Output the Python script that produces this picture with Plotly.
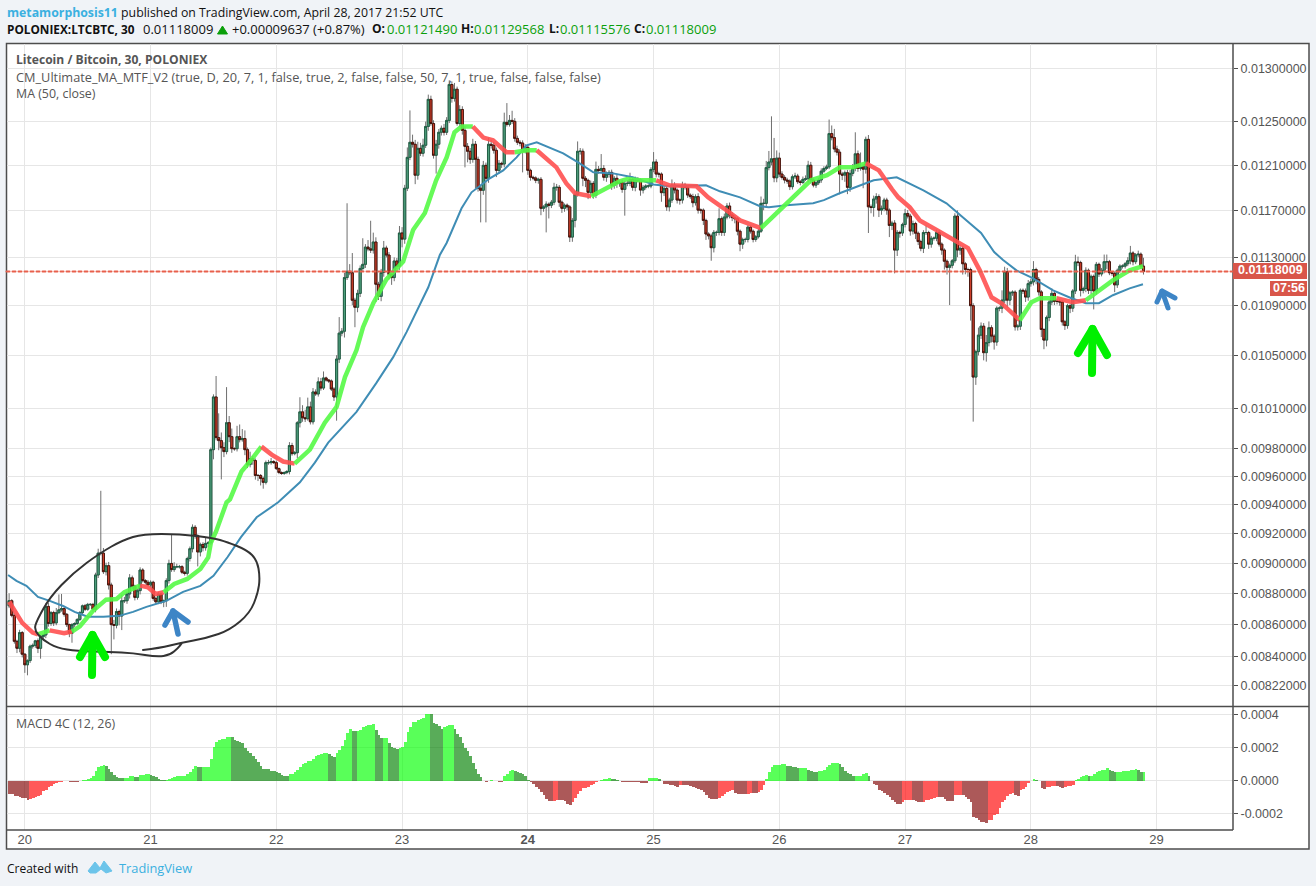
import pandas as pd
import plotly.graph_objects as go

W, H = 1316, 886
first_open = 8721
# closes, in millionths of BTC, one row per ten 30-minute candles
closes = [
8754,8659,8494,8450,8549,8413,
8347,8373,8463,8468,8497,8450,8523,8534,8717,8607,
8677,8611,8677,8695,8703,8666,8600,8545,8600,8607,
8633,8677,8721,8699,8730,8730,8699,8923,9069,9069,
8945,8985,8857,8600,8596,8684,8655,8754,8754,8798,
8904,8849,8776,8820,8956,8886,8875,8857,8875,8769,
8747,8798,8747,8754,8886,9000,8959,8978,8978,8978,
8941,8934,9033,9099,9245,9187,9077,9128,9106,9135,
9139,9794,10185,9882,9860,9808,9780,9992,9889,9801,
9801,9889,9867,9875,9794,9686,9729,9715,9608,9608,
9587,9559,9700,9700,9708,9700,9657,9629,9622,9629,
9636,9824,9765,9772,9992,10073,10029,10022,10110,9999,
10223,10208,10300,10253,10330,10314,10307,10245,10185,10476,
10680,10695,11130,11182,11170,10944,10887,11000,11206,11240,
11385,11370,11360,11428,11075,10976,11172,11377,11318,11155,
11130,11268,11225,11505,11453,11894,12170,12307,12289,12010,
12252,12207,12280,12453,12706,12480,12189,12289,12399,12436,
12399,12509,12847,12715,12802,12480,12611,12417,12270,12225,
12152,12289,12152,11894,11876,12098,11982,12289,12280,12234,
12053,12116,12110,12491,12472,12509,12500,12343,12307,12300,
12225,12261,12053,11991,11985,11964,11973,11718,11730,11754,
11745,11771,11902,11902,11771,11718,11745,11730,11470,11613,
11840,12225,12225,11982,11964,11858,11937,11832,12062,12053,
12070,11991,12018,12035,11920,11982,11937,11945,11884,11937,
11937,11972,11902,11967,11967,11878,11902,11914,11914,12061,
12128,12020,12020,11855,11893,11731,11790,11922,11878,11790,
11790,11922,11902,11834,11820,11767,11820,11702,11702,11613,
11496,11480,11380,11510,11510,11628,11510,11642,11738,11660,
11637,11628,11520,11410,11450,11450,11555,11520,11450,11473,
11520,11761,11761,12078,12128,12157,11987,12163,12020,11990,
11967,11958,11908,11996,12002,11952,11945,11973,11978,12099,
11967,11922,11943,11967,12046,12070,12084,12387,12350,12246,
12217,12020,12011,12032,11902,12026,12070,12202,12070,12084,
12064,12334,11731,11725,11799,11820,11702,11717,11790,11702,
11570,11590,11360,11510,11505,11578,11673,11650,11522,11586,
11503,11432,11375,11509,11509,11410,11460,11460,11509,11410,
11360,11266,11215,11232,11270,11650,11360,11375,11245,11197,
11197,10900,10337,10534,10664,10735,10526,10605,10723,10656,
10610,10880,10880,10945,11180,10945,11005,11010,10730,10735,
11025,11020,10970,11080,11095,11197,11115,11012,10709,10625,
10805,10930,11000,10935,10935,10930,10770,10740,10900,10880,
11020,11260,11255,11025,11040,11190,11025,11140,11020,11240,
11160,11190,11262,11262,11170,11165,11070,11190,11225,11225,
11245,11270,11335,11262,11320,11325,11225,11180]
wick_up = [
48,10,12,10,18,10,
6,8,10,12,6,15,12,8,20,25,
10,12,30,100,95,12,8,6,10,8,
8,10,8,12,10,8,10,15,30,430,
35,20,25,15,30,20,12,40,25,15,
25,15,10,12,18,12,10,15,12,10,
10,12,8,8,15,25,198,30,20,12,
10,10,12,15,20,15,10,12,15,40,
12,15,20,160,180,60,40,268,50,60,
10,80,90,70,60,15,50,20,15,10,
10,12,15,20,25,10,15,8,8,8,
10,25,20,12,12,110,50,60,70,40,
30,20,35,30,50,10,8,12,15,30,
128,25,40,580,60,165,20,30,25,220,
25,60,240,80,40,20,30,60,20,25,
15,30,25,60,50,30,90,295,70,40,
60,50,60,45,45,35,30,40,30,25,
40,30,40,30,60,25,40,30,40,30,
30,50,30,25,30,40,25,60,40,30,
25,30,15,90,180,50,90,30,25,20,
25,30,20,15,15,15,15,20,15,25,
15,20,40,30,20,15,15,15,15,20,
30,90,30,25,20,15,25,20,70,30,
130,30,25,20,25,20,30,20,25,20,
30,60,25,30,25,15,20,15,15,20,
90,25,20,15,25,15,20,50,25,15,
15,30,20,15,15,25,20,30,15,15,
15,15,20,20,15,90,20,30,25,30,
25,20,15,15,15,15,20,15,15,15,
20,60,40,60,100,390,190,70,50,25,
20,20,15,20,30,20,15,25,30,40,
30,15,20,20,25,20,20,130,75,80,
30,25,20,20,25,30,40,197,30,130,
25,25,40,20,30,30,20,25,20,20,
15,20,25,20,15,15,40,30,20,25,
15,15,15,20,60,15,20,15,25,20,
15,15,15,15,15,25,50,30,20,15,
15,15,20,15,60,30,25,60,50,20,
15,15,15,80,40,30,15,15,15,15,
15,15,20,30,25,70,15,20,15,10,
15,20,40,15,15,15,15,15,15,15,
15,60,45,15,15,25,15,15,15,20,
15,20,60,60,15,15,15,15,15,15,
15,30,60,15,15,30,15,70]
wick_down = [
15,12,15,30,25,20,
50,65,15,15,15,30,65,15,20,20,
15,20,15,10,12,15,15,25,60,15,
10,10,10,12,10,10,15,20,20,15,
15,25,30,187,90,20,60,90,15,20,
30,20,20,15,25,12,15,10,15,15,
15,15,15,35,40,20,15,15,10,12,
12,15,15,20,25,20,97,30,25,20,
25,15,70,20,70,228,40,20,40,30,
15,20,20,15,40,25,20,30,30,40,
50,45,15,15,15,10,10,12,10,10,
12,20,15,12,40,35,30,25,15,20,
20,15,20,20,15,12,15,15,30,178,
30,25,50,20,20,40,160,40,30,20,
30,20,25,30,145,30,40,35,20,40,
60,30,25,30,70,40,25,25,30,80,
40,25,30,25,40,20,30,165,40,30,
30,25,25,40,30,20,30,40,190,100,
40,30,260,30,280,40,386,40,30,30,
60,30,35,30,20,20,25,30,25,30,
190,20,40,30,20,25,30,60,30,220,
115,25,25,30,40,40,30,30,42,40,
60,20,30,70,60,60,40,30,25,30,
25,30,40,30,40,30,40,30,30,230,
25,25,30,35,20,50,30,20,20,20,
25,30,30,80,30,35,40,25,30,30,
40,30,20,25,20,40,25,30,30,40,
50,30,110,40,30,25,30,30,20,30,
30,40,35,60,40,25,25,20,25,20,
15,15,60,40,25,30,40,40,25,20,
30,25,30,25,20,20,25,15,15,30,
30,20,25,20,25,15,15,20,25,30,
30,180,45,60,60,40,25,25,30,20,
170,40,226,50,80,40,60,40,25,40,
100,40,195,50,40,25,25,20,40,30,
50,30,25,40,20,40,30,20,25,20,
40,70,60,310,25,20,60,40,90,40,
60,120,337,60,30,30,60,70,30,50,
60,30,25,40,25,60,40,25,30,30,
30,25,40,30,25,30,40,30,60,72,
50,30,25,30,25,30,30,35,25,40,
30,25,30,50,25,30,30,30,150,30,
25,20,25,60,20,20,60,25,20,20,
20,20,30,30,20,20,25,25]
macd_hist = [
-79,-79,-93,-94,-99,-103,
-107,-115,-113,-103,-99,-95,-90,-65,-55,-40,
-30,-22,-15,-9,-6,-4,-5,-6,-6,-7,
-8,-3,2,6,12,16,30,60,82,88,
92,88,72,50,33,20,16,14,14,16,
26,26,24,22,34,36,38,38,36,26,
20,12,4,2,2,8,16,22,26,28,
30,30,40,50,70,86,84,82,82,82,
82,128,205,230,243,248,250,262,265,262,
245,238,232,225,195,180,165,150,130,110,
85,72,70,68,60,58,50,45,36,30,
25,38,40,50,65,80,100,105,115,120,
130,150,155,160,165,165,162,145,140,165,
185,210,244,285,309,300,298,298,305,320,
330,332,335,340,305,275,255,255,255,225,
205,195,190,195,205,235,290,325,350,355,
365,368,375,403,403,400,345,338,330,310,
320,330,333,335,310,280,260,225,195,180,
145,108,70,40,20,0,-8,0,6,0,
-4,-6,-6,26,42,60,62,60,52,46,
38,30,6,-8,-22,-36,-48,-70,-90,-110,
-123,-123,-122,-120,-120,-120,-122,-140,-148,-130,
-108,-80,-62,-45,-42,-36,-28,-18,-10,-4,
6,8,12,14,10,8,6,-2,-6,-6,
-6,-6,-8,-8,-10,-14,-14,-14,14,14,
14,14,10,-4,-20,-22,-24,-25,-35,-36,
-26,-26,-27,-28,-30,-36,-44,-50,-58,-68,
-90,-108,-112,-112,-112,-105,-95,-80,-70,-66,
-60,-75,-80,-80,-82,-82,-80,-76,-76,-76,
-70,-55,-25,12,52,80,92,95,96,97,
98,90,88,82,80,76,76,76,76,65,
58,54,52,56,56,62,80,92,108,108,
108,100,80,60,45,42,26,30,30,30,
38,44,28,-2,-18,-28,-55,-62,-76,-85,
-100,-118,-130,-142,-142,-130,-120,-116,-115,-118,
-123,-128,-130,-128,-118,-115,-110,-104,-100,-100,
-102,-112,-122,-124,-124,-90,-86,-85,-90,-98,
-110,-130,-220,-228,-240,-248,-250,-255,-240,-238,
-210,-200,-165,-130,-118,-96,-84,-78,-90,-95,
-55,-48,-38,-14,-4,8,6,0,-42,-48,
-40,-36,-34,-32,-34,-36,-44,-38,-34,-30,
-26,4,10,20,26,34,30,30,42,52,
56,62,66,74,66,58,50,52,54,56,
58,60,62,64,68,64,52,52]
# candle number counted from 20 April 00:00, and the MA value there
ma_cm_index = [-6,-3.8,-1,3,5,9.5,15,18,21,26,31,35,38,44,47,50,53,57,62,67,70,71,73,77,78.3,82.7,86.5,90.3,94.2,98.6,103,108.8,114.5,119,122.2,126.6,129.1,133,138,144.4,148.2,152.7,157,161,164,166.7,171,175,178.7,182.6,183.8,187,191.5,195.4,199,202.9,206.7,210,216.2,222,227,230,234.7,241,246,256.4,260.8,266.8,273,281,287,293.5,300,306.2,311.1,316,321,326,331,333.4,337.8,341.6,348,354.3,360,364.5,369,372.8,376.6,379.8,384.2,387.4,393.8,400,405,410,415.3,421.7,426.8]
ma_cm_value = [8747,8688,8611,8549,8538,8563,8545,8556,8589,8688,8761,8765,8809,8853,8842,8798,8809,8864,8897,8963,9040,9139,9216,9418,9439,9636,9722,9816,9758,9708,9693,9794,9992,10110,10337,10546,10727,10920,11115,11263,11530,11677,11964,12170,12399,12453,12453,12350,12325,12234,12216,12216,12234,12234,12161,12080,11937,11850,11823,11894,11955,11975,11964,11964,11920,11911,11814,11718,11613,11547,11677,11814,11964,12010,12080,12080,12116,12053,11885,11814,11727,11613,11530,11445,11377,11190,10968,10920,10847,10783,10928,10960,10960,10928,10944,11025,11107,11190,11225]
ma_red_ranges = [(-6,5),(9.5,18),(44,53),(90.3,103),(171,187),(195.4,216.2),(241,281),(321,379.8),(393.8,405)]
ma50_index = [-6.4,-3.2,0.6,5,9.5,14.6,19,24,30,36,41.3,46.4,54,60.4,67,72,77.4,82.5,88.5,96.7,105,110.7,115.8,120.2,126.6,134.2,140.6,145.7,152,154,158.4,161,166.7,170.5,177.5,182.6,187.7,191.5,195.4,200,205.5,211.2,217,224.6,232,240,246,260,265.3,273,280.6,284,290.7,300.9,305,311,317,324,332.8,343,351.8,358,365,370,373.4,378.5,384.9,392.5,399.5,405,410,415.3,421.7,426.8]
ma50_value = [8923,8884,8851,8779,8753,8720,8682,8650,8650,8656,8682,8714,8753,8812,8851,8917,9043,9178,9314,9418,9559,9700,9845,9940,10073,10292,10491,10688,10968,11050,11318,11420,11718,11858,11982,12053,12170,12280,12307,12261,12207,12125,12035,12026,11991,11928,11911,11920,11867,11814,11736,11727,11745,11762,11789,11850,11902,11964,11991,11876,11762,11640,11505,11343,11276,11190,11123,11025,10960,10920,10920,10985,11041,11075]
last_price = 0.01118009
price_ticks = [0.0130,0.0125,0.0121,0.0117,0.0113,0.0109,0.0105,0.0101,0.0098,0.0096,0.0094,0.0092,0.0090,0.0088,0.0086,0.0084,0.00822]
macd_ticks = [0.0004,0.0002,0.0,-0.0002]
macd_labels = ["0.0004","0.0002","0.0000","-0.0002"]
day_ticks = ["2017-04-%02d"%d for d in range(20,30)]
day_labels = ["20","21","22","23","<b>24</b>","25","26","27","28","29"]

dates = pd.date_range("2017-04-19 21:00", periods=len(closes), freq="30min")
day0 = pd.Timestamp("2017-04-20")
def when(i): return day0 + pd.Timedelta(minutes=30*i)
opens = [first_open]+closes[:-1]
o = [v*1e-6 for v in opens]
c = [v*1e-6 for v in closes]
top = [max(a,b) for a,b in zip(o,c)]
bot = [min(a,b) for a,b in zip(o,c)]
hi = [t+u*1e-6 for t,u in zip(top,wick_up)]
lo = [b-d*1e-6 for b,d in zip(bot,wick_down)]

fig = go.Figure()
# wicks, then bodies over them
fig.add_trace(go.Candlestick(x=dates,open=o,high=hi,low=lo,close=c,whiskerwidth=0,
    increasing=dict(line=dict(color="#6f6f6f",width=1),fillcolor="rgba(0,0,0,0)"),
    decreasing=dict(line=dict(color="#6f6f6f",width=1),fillcolor="rgba(0,0,0,0)"),
    showlegend=False,hoverinfo="skip",yaxis="y",xaxis="x"))
fig.add_trace(go.Candlestick(x=dates,open=o,high=top,low=bot,close=c,whiskerwidth=0,
    increasing=dict(line=dict(color="#1c5c42",width=0.9),fillcolor="#4f9f7d"),
    decreasing=dict(line=dict(color="#3f0d06",width=0.9),fillcolor="#d2402c"),
    showlegend=False,yaxis="y",xaxis="x"))

# MA 50
fig.add_trace(go.Scatter(x=[when(i) for i in ma50_index],y=[v*1e-6 for v in ma50_value],mode="lines",
    line=dict(color="#3f8db5",width=2),showlegend=False,hoverinfo="skip"))
# CM ultimate MA, red / green
def is_red(i): return any(a<=i<b for a,b in ma_red_ranges)
seg_x,seg_y,cur=[],[],None
segs=[]
for i,v in zip(ma_cm_index,ma_cm_value):
    st=is_red(i)
    if cur is None: cur=st
    seg_x.append(when(i)); seg_y.append(v*1e-6)
    if st!=cur:
        segs.append((cur,seg_x,seg_y)); seg_x,seg_y=[when(i)],[v*1e-6]; cur=st
segs.append((cur,seg_x,seg_y))
for st,xs,ys in segs:
    fig.add_trace(go.Scatter(x=xs,y=ys,mode="lines",line=dict(color="rgba(255,80,80,0.9)" if st else "rgba(85,250,70,0.9)",width=4.5),showlegend=False,hoverinfo="skip"))

# MACD 4C
cols=[]
for k,v in enumerate(macd_hist):
    prev=macd_hist[k-1] if k else v
    if v>=0: cols.append("rgba(0,255,0,0.65)" if v>=prev else "rgba(0,128,0,0.65)")
    else: cols.append("rgba(255,0,0,0.65)" if v>prev else "rgba(128,0,0,0.65)")
fig.add_trace(go.Bar(x=dates,y=[v*1e-6 for v in macd_hist],marker=dict(color=cols,line=dict(width=0)),width=1800000,yaxis="y2",showlegend=False,hoverinfo="skip"))

def X(x): return x/W
def Y(y): return 1-y/H
GRID="#e6e6e6"; AX="#4d4d4d"; TXT="#555555"
AXF="Liberation Sans"; HF="Open Sans"

def ann(x,y,t,size=13,color="#111",xa="left",bold=False,font=HF,**k):
    return dict(x=X(x),y=Y(y),xref="paper",yref="paper",text=("<b>%s</b>"%t if bold else t),showarrow=False,
        xanchor=xa,yanchor="middle",align="left",font=dict(size=size,color=color,family=font),borderpad=0,**k)
G="#0a9f0a"
annots=[
 ann(5.5,12,'<span style="color:#3bb0e0"><b>metamorphosis11</b></span> published on TradingView.com, April 28, 2017 21:52 UTC',size=12.3),
 ann(5.5,29,"POLONIEX:LTCBTC, 30",bold=True,size=11.8),
 ann(142,29,"0.01118009"),
 ann(231,29,"+0.00009637 (+0.87%)"),
 ann(371,29,"O:",bold=True,size=12),ann(386,29,"0.01121490",color=G),
 ann(460,29,"H:",bold=True,size=12),ann(473,29,"0.01129568",color=G),
 ann(548,29,"L:",bold=True,size=12),ann(559,29,"0.01115576",color=G),
 ann(633,29,"C:",bold=True,size=12),ann(645,29,"0.01118009",color=G),
 ann(14.5,60,"Litecoin / Bitcoin, 30, POLONIEX",color=TXT,bold=True,size=12.1),
 ann(14.5,77,"CM_Ultimate_MA_MTF_V2 (true, D, 20, 7, 1, false, true, 2, false, false, 50, 7, 1, true, false, false, false)",color=TXT,size=12.75),
 ann(14.5,94,"MA (50, close)",color=TXT,size=12.4),
 ann(14.5,723,"MACD 4C (12, 26)",color=TXT,size=12.4),
 ann(5.5,868,"Created with",size=12),
 ann(117.5,868,"TradingView",color="#3bb0e0",size=12.8),
 ann(1270,270.5,"0.01118009",color="white",bold=True,size=12.5,xa="center",font=AXF),
 ann(1288.5,288,"07:56",color="white",bold=True,size=12.5,xa="center",font=AXF),
]

def pth(pts):
    return "M"+" L".join("%.5f,%.5f"%(X(a),Y(b)) for a,b in pts)
def smooth(pts):
    s="M%.5f,%.5f"%(X(pts[0][0]),Y(pts[0][1]))
    for p,q in zip(pts[1:-1],pts[2:]):
        mx,my=(p[0]+q[0])/2,(p[1]+q[1])/2
        s+=" Q%.5f,%.5f %.5f,%.5f"%(X(p[0]),Y(p[1]),X(mx),Y(my))
    s+=" L%.5f,%.5f"%(X(pts[-1][0]),Y(pts[-1][1]))
    return s
def rect(x0,y0,x1,y1,fill=None,line=None,layer="below",w=1):
    return dict(type="rect",xref="paper",yref="paper",x0=X(x0),x1=X(x1),y0=Y(y0),y1=Y(y1),fillcolor=fill or "rgba(0,0,0,0)",
        line=dict(color=line or "rgba(0,0,0,0)",width=w if line else 0),layer=layer)
def seg(x0,y0,x1,y1,color=AX,w=1.5):
    return dict(type="line",xref="paper",yref="paper",x0=X(x0),x1=X(x1),y0=Y(y0),y1=Y(y1),line=dict(color=color,width=w),layer="above")
def path(d,color,w,fill=None):
    return dict(type="path",xref="paper",yref="paper",path=d,line=dict(color=color,width=w),fillcolor=fill or "rgba(0,0,0,0)",layer="above")
def arrow(bottom,left,tip,right,color,w):
    return [path(pth([bottom,tip]),color,w),path(pth([left,tip,right]),color,w)]

circle=[(143,650),(160,648),(180,643),(207,638),(230,630),(250,613),(258,593),(260,577),(257,560),(247,550),(227,542),(213,538),(180,534),(143,534),(123,540),(100,553),(73,573),(50,597),(37,620),(34,630),(43,640),(57,648),(77,651),(110,652),(133,653),(157,657),(170,655),(178,648),(182,643)]
shapes=[
 rect(6.5,43.5,1309,849,fill="white",line=AX,w=1.5),
 seg(6.5,706.5,1309,706.5),
 seg(6.5,830,1233,830),
 seg(1233,43.5,1233,830),
 dict(type="line",xref="paper",yref="y",x0=X(6.5),x1=X(1233),y0=last_price,y1=last_price,line=dict(color="#e8604c",width=2,dash="3px,3px"),layer="above"),
 rect(1233,263,1307,279,fill="#d9564a",layer="above"),
 rect(1270,281,1307,296,fill="#d9564a",layer="above"),
 path(smooth(circle),"#333333",2),
 path(pth([(88,871),(95,862),(100,868),(104,861),(112,871),(106,873),(101,869),(96,873),(90,873)])+" Z","#6cc4ea",1,fill="#6cc4ea"),
 path(pth([(217.5,34),(227.5,34),(222.5,26)])+" Z","#0a9f0a",1,fill="#0a9f0a"),
]
shapes+=arrow((92,675),(80,657),(92.5,635),(105,657),"#00f000",8)
shapes+=arrow((1092,373),(1078,353),(1092.5,329),(1107,355),"#00f000",8)
shapes+=arrow((178,634),(165,625),(173,611),(188,622),"#3d85c6",5.5)
shapes+=arrow((1168,308),(1157,302),(1162,291),(1175,298),"#3d85c6",5)

fig.update_layout(
 width=W,height=H,margin=dict(l=0,r=0,t=0,b=0),autosize=False,
 paper_bgcolor="#f0f3f7",plot_bgcolor="white",showlegend=False,bargap=0,boxgap=0,boxgroupgap=0.2,
 xaxis=dict(domain=[X(6.5),X(1233)],anchor="y2",type="date",range=["2017-04-19 20:30","2017-04-29 14:35"],
   rangeslider=dict(visible=False),tickmode="array",tickvals=day_ticks,ticktext=day_labels,ticks="",
   showgrid=True,gridcolor=GRID,gridwidth=1,zeroline=False,showline=False,
   tickfont=dict(family=AXF,size=13,color=TXT)),
 yaxis=dict(domain=[Y(706),Y(43.5)],anchor="x",side="right",type="log",range=[-2.09177,-1.87796],
   tickmode="array",tickvals=price_ticks,ticktext=["%.8f"%v for v in price_ticks],ticks="outside",ticklen=4,tickcolor=AX,
   showgrid=True,gridcolor=GRID,gridwidth=1,zeroline=False,showline=False,
   tickfont=dict(family=AXF,size=12.5,color=TXT)),
 yaxis2=dict(domain=[Y(830),Y(707)],anchor="x",side="right",range=[-0.000298,0.000443],
   tickmode="array",tickvals=macd_ticks,ticktext=macd_labels,ticks="outside",ticklen=4,tickcolor=AX,
   showgrid=True,gridcolor=GRID,gridwidth=1,zeroline=False,showline=False,
   tickfont=dict(family=AXF,size=12.5,color=TXT)),
 annotations=annots,shapes=shapes,hovermode=False)
post = """document.body.style.margin='0';document.documentElement.style.overflow='hidden';
document.querySelectorAll('.shapelayer path').forEach(function(p){
 var w=parseFloat(p.style.strokeWidth||'0'); if(w>=2&&w<=8){p.style.strokeLinecap='round';p.style.strokeLinejoin='round';}
});"""
fig.write_html("out.html",config=dict(displayModeBar=False),post_script=post)
